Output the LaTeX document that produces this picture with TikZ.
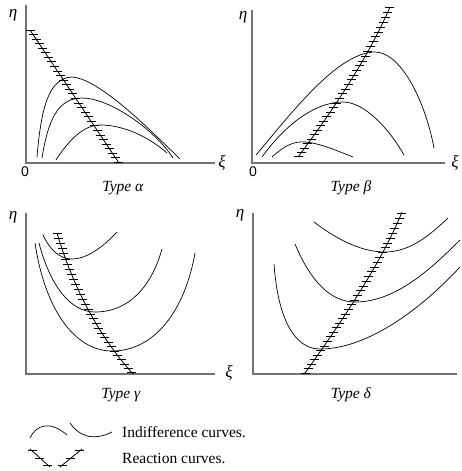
\documentclass[tikz,border=0pt]{standalone}
\usepackage{fontspec}
\setmainfont{Liberation Serif}
\setsansfont{Liberation Sans}
\usetikzlibrary{decorations.markings}
\begin{document}
\begin{tikzpicture}[x=1pt,y=-1pt,
  axisline/.style={draw=black!55, line width=1.3pt},
  icurve/.style={draw=black, line width=0.7pt},
  tickmark/.style={line width=1pt},
  rcurve/.style={draw=black, line width=0.8pt,
    postaction={decorate, decoration={markings,
      mark=between positions 0 and 1 step 5.5pt with
      {\pgftransformresetnontranslations \draw[tickmark] (-4.5pt,0)--(4.5pt,0);}}}},
  rlegend/.style={draw=black, line width=0.8pt,
    postaction={decorate, decoration={markings,
      mark=at position 0.1 with {\pgftransformresetnontranslations \draw[tickmark] (-4.5pt,0)--(4.5pt,0);},
      mark=at position 0.5 with {\pgftransformresetnontranslations \draw[tickmark] (-4.5pt,0)--(4.5pt,0);},
      mark=at position 0.9 with {\pgftransformresetnontranslations \draw[tickmark] (-4.5pt,0)--(4.5pt,0);}}}},
  lab/.style={inner sep=0pt, font=\fontsize{15.5}{18}\selectfont},
  greeklab/.style={inner sep=0pt, font=\itshape\fontsize{17}{19}\selectfont},
  zerolab/.style={inner sep=0pt, font=\sffamily\fontsize{14}{16}\selectfont},
]
\useasboundingbox (0,0) rectangle (461,471);

% ---------- Type alpha ----------
\draw[axisline] (26,5) -- (26,163) -- (215,163);
\node[greeklab] (eta1) at (13,15) {η};
\node[greeklab] (xi1) at (222,163) {ξ};
\node[zerolab] (zero1) at (25,172) {0};
\node[lab] (typea) at (123,188) {\textit{Type α}};
\draw[icurve] (37,157) .. controls (41,110) and (48,78) .. (72,77) .. controls (100,79) and (150,130) .. (180,159);
\draw[icurve] (42,158) .. controls (48,120) and (58,98) .. (82,98) .. controls (110,98) and (155,130) .. (173,158);
\draw[icurve] (56,160) .. controls (70,138) and (85,125) .. (100,125) .. controls (125,125) and (150,138) .. (167,153);
\draw[rcurve] (30,30) -- (119,163);

% ---------- Type beta ----------
\draw[axisline] (252,10) -- (252,163) -- (445,163);
\node[greeklab] (eta2) at (243,17) {η};
\node[greeklab] (xi2) at (455,163) {ξ};
\node[zerolab] (zero2) at (253,172) {0};
\node[lab] (typeb) at (351,188) {\textit{Type β}};
\draw[icurve] (256,155) .. controls (290,115) and (335,55) .. (373,52) .. controls (400,50) and (425,100) .. (434,148);
\draw[icurve] (262,157) .. controls (285,125) and (315,102) .. (343,102) .. controls (365,102) and (390,130) .. (404,155);
\draw[icurve] (272,157) .. controls (285,145) and (295,141) .. (305,142) .. controls (320,143) and (340,152) .. (353,157);
\draw[rcurve] (298,157) .. controls (340,101) and (371,51) .. (390,7);

% ---------- Type gamma ----------
\draw[axisline] (26,213) -- (26,374) -- (215,374);
\node[greeklab] (eta3) at (13,217) {η};
\node[greeklab] (xi3) at (229,373) {ξ};
\node[lab] (typeg) at (121,395) {\textit{Type γ}};
\draw[icurve] (43,235) .. controls (50,250) and (60,259) .. (72,259) .. controls (88,259) and (105,245) .. (117,232);
\draw[icurve] (39,243) .. controls (50,285) and (70,312) .. (95,312) .. controls (130,312) and (152,285) .. (162,249);
\draw[icurve] (35,243) .. controls (45,310) and (75,351) .. (112,351) .. controls (155,351) and (185,310) .. (195,253);
\draw[rcurve] (57,233) .. controls (73.9,289.5) and (99.3,336.5) .. (133,374);

% ---------- Type delta ----------
\draw[axisline] (253,213) -- (253,374) -- (457,374);
\node[greeklab] (eta4) at (240,215) {η};
\node[lab] (typed) at (351,395) {\textit{Type δ}};
\draw[icurve] (314,222) .. controls (335,238) and (360,252) .. (385,252) .. controls (410,252) and (430,235) .. (448,218);
\draw[icurve] (295,244) .. controls (310,280) and (330,302) .. (355,302) .. controls (395,302) and (430,270) .. (460,240);
\draw[icurve] (274,264) .. controls (278,320) and (295,349) .. (320,349) .. controls (370,349) and (425,305) .. (460,267);
\draw[rcurve] (305,373) .. controls (353.9,305) and (386.3,251.3) .. (402,212);

% ---------- Legend ----------
\draw[icurve] (30,438) .. controls (36,425) and (50,420) .. (67,435);
\draw[icurve] (70,423) .. controls (78,435) and (92,442) .. (112,432);
\node[lab, anchor=west] (ilab) at (122,432) {Indifference curves.};
\draw[rlegend] (30,449) -- (50,467);
\draw[rlegend] (60,467) -- (82,449);
\node[lab, anchor=west] (rlab) at (122,458) {Reaction curves.};
\end{tikzpicture}
\end{document}
